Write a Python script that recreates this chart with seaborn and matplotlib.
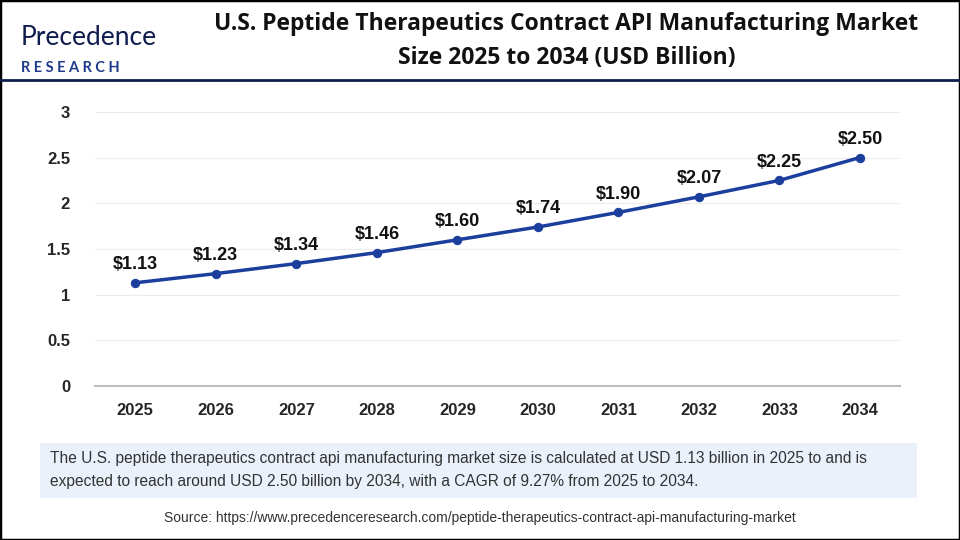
import numpy as np
import pandas as pd
import matplotlib
matplotlib.use('Agg')
import matplotlib.pyplot as plt
import seaborn as sns
from matplotlib.patches import Rectangle

years = [2025, 2026, 2027, 2028, 2029, 2030, 2031, 2032, 2033, 2034]
values = [1.13, 1.23, 1.34, 1.46, 1.60, 1.74, 1.90, 2.07, 2.25, 2.50]
yticks = [0, 0.5, 1, 1.5, 2, 2.5, 3]
ytick_labels = ['0', '0.5', '1', '1.5', '2', '2.5', '3']

title_lines = ['U.S. Peptide Therapeutics Contract API Manufacturing Market',
               'Size 2025 to 2034 (USD Billion)']
note = ('The U.S. peptide therapeutics contract api manufacturing market size is calculated at USD 1.13 billion in 2025 to and is\n'
        'expected to reach around USD 2.50 billion by 2034, with a CAGR of 9.27% from 2025 to 2034.')
source = 'Source: https://www.precedenceresearch.com/peptide-therapeutics-contract-api-manufacturing-market'

df = pd.DataFrame({'year': years, 'value': values})

sns.set_style('white')
plt.rcParams['font.family'] = ['Liberation Sans', 'DejaVu Sans']

line_color = '#1c3f9e'
navy = '#0f1c4d'

fig = plt.figure(figsize=(9.6, 5.4), dpi=100)
ax = fig.add_axes([0.099, 0.285, 0.844 * 805 / 810, 0.508])

sns.lineplot(data=df, x='year', y='value', ax=ax, color=line_color, linewidth=2.5,
             marker='o', markersize=6, markeredgecolor=line_color)

for x, y in zip(years, values):
    ax.annotate(f'${y:.2f}', (x, y), xytext=(0, 7), textcoords='offset points',
                ha='center', va='bottom', fontsize=13, fontweight='bold', color='#111111')

ax.set_xlim(2024.5, 2034.5)
ax.set_ylim(0, 3)
ax.set_xticks(years)
ax.set_xticklabels([str(y) for y in years], fontsize=12, fontweight='bold')
ax.set_yticks(yticks)
ax.set_yticklabels(ytick_labels, fontsize=12, fontweight='bold')
ax.tick_params(axis='x', pad=12, length=0)
ax.tick_params(axis='y', pad=18, length=0)
ax.set_xlabel('')
ax.set_ylabel('')
ax.grid(axis='y', color='#ececec', linewidth=0.8)
ax.set_axisbelow(True)
for side in ['top', 'right', 'left']:
    ax.spines[side].set_visible(False)
ax.spines['bottom'].set_color('#bdbdbd')
ax.spines['bottom'].set_linewidth(1.5)

# header
for i, line in enumerate(title_lines):
    fig.text(0.59, 1 - (24 + 34 * i) / 540, line, ha='center', va='center', fontsize=16.5,
             fontweight='bold', color='#111111', family=['Open Sans', 'DejaVu Sans'])
fig.text(0.022, 0.93, 'Precedence', ha='left', va='center', fontsize=19, color=navy,
         family=['Lato', 'DejaVu Sans'])
fig.text(0.022, 0.875, 'R E S E A R C H', ha='left', va='center', fontsize=10.5, fontweight='bold',
         color='#1f3a8a', family=['Lato', 'DejaVu Sans'])
fig.add_artist(plt.Line2D([0, 1], [1 - 80 / 540, 1 - 80 / 540], color=navy, linewidth=2,
                          transform=fig.transFigure))

# note box
fig.add_artist(Rectangle((40 / 960, 1 - 498 / 540), 877 / 960, 55 / 540, transform=fig.transFigure,
                         facecolor='#eaf1fb', edgecolor='none'))
fig.text(50 / 960, 1 - 470 / 540, note, ha='left', va='center', fontsize=11.2, color='#333333',
         linespacing=1.6)
fig.text(0.5, 1 - 518 / 540, source, ha='center', va='center', fontsize=10, color='#333333')

# outer border
fig.add_artist(Rectangle((0, 0), 1, 1, transform=fig.transFigure, facecolor='none',
                         edgecolor='black', linewidth=2.5))

fig.savefig('out.png', dpi=100)
